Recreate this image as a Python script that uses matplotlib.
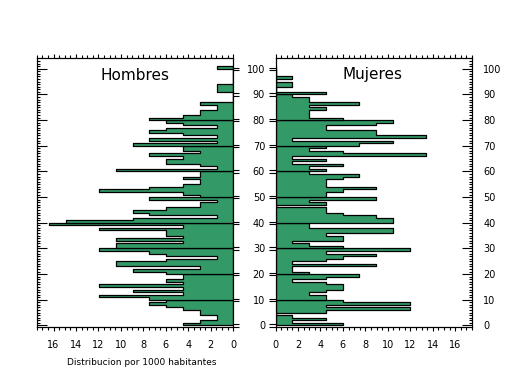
"""
Piramide de poblacion por edad simple (Hombres / Mujeres).

Saves out.png.
"""

import matplotlib
matplotlib.use("Agg")
import matplotlib.pyplot as plt
from matplotlib.ticker import FixedLocator, MultipleLocator, NullFormatter


# ages 0..100, one bar per year
AGES = list(range(0, 101))

# distribucion por 1000 habitantes
HOMBRES = [
    4.48, 2.99, 1.49, 1.49, 2.99, 2.99, 4.48, 5.97, 7.46, 5.97,       # 0-9
    7.46, 11.94, 4.48, 8.96, 4.48, 11.94, 4.48, 5.97, 4.48, 4.48,     # 10-19
    5.97, 8.96, 2.99, 10.45, 10.45, 5.97, 1.49, 5.97, 7.46, 11.94,    # 20-29
    10.45, 10.45, 4.48, 10.45, 4.48, 5.97, 5.97, 11.94, 4.48, 16.42,  # 30-39
    14.93, 8.96, 1.49, 7.46, 8.96, 5.97, 2.99, 2.99, 1.49, 7.46,      # 40-49
    2.99, 4.48, 11.94, 7.46, 4.48, 2.99, 2.99, 4.48, 2.99, 2.99,      # 50-59
    10.45, 1.49, 2.99, 5.97, 5.97, 4.48, 7.46, 2.99, 4.48, 4.48,      # 60-69
    8.96, 1.49, 7.46, 1.49, 4.48, 7.46, 5.97, 1.49, 4.48, 5.97,       # 70-79
    7.46, 4.48, 2.99, 2.99, 1.49, 1.49, 2.99, 0, 0, 0,                # 80-89
    0, 1.49, 1.49, 1.49, 0, 0, 0, 0, 0, 0,                            # 90-99
    1.49,                                                             # 100
]

MUJERES = [
    5.97, 1.49, 4.48, 1.49, 0, 4.48, 11.94, 4.48, 11.94, 5.97,        # 0-9
    4.48, 4.48, 2.99, 4.48, 5.97, 5.97, 4.48, 1.49, 4.48, 7.46,       # 10-19
    2.99, 1.49, 1.49, 8.96, 1.49, 4.48, 5.97, 8.96, 4.48, 11.94,      # 20-29
    5.97, 2.99, 1.49, 5.97, 5.97, 4.48, 10.45, 10.45, 2.99, 2.99,     # 30-39
    10.45, 10.45, 8.96, 5.97, 4.48, 4.48, 0, 4.48, 2.99, 8.96,        # 40-49
    4.48, 4.48, 5.97, 8.96, 4.48, 4.48, 4.48, 5.97, 7.46, 2.99,       # 50-59
    4.48, 2.99, 5.97, 1.49, 4.48, 1.49, 13.43, 5.97, 2.99, 4.48,      # 60-69
    7.46, 10.45, 1.49, 13.43, 8.96, 8.96, 4.48, 4.48, 8.96, 10.45,    # 70-79
    5.97, 2.99, 2.99, 2.99, 4.48, 2.99, 7.46, 2.99, 2.99, 1.49,       # 80-89
    4.48, 0, 0, 1.49, 1.49, 0, 1.49, 0, 0, 0,                         # 90-99
    0,                                                                # 100
]

X_TICKS = [0, 2, 4, 6, 8, 10, 12, 14, 16]
Y_TICKS = [0, 10, 20, 30, 40, 50, 60, 70, 80, 90, 100]

GREEN = "#339966"
XMAX = 17.5
YLIM = (-0.6, 104.3)
FS = 7


def draw_pyramid(ax, values):
    """One outlined step polygon per decade, as in the original chart."""
    for start in range(0, len(AGES), 10):
        ages = AGES[start:start + 10]
        vals = values[start:start + 10]
        y = ages + [ages[-1] + 1]
        x = vals + [vals[-1]]
        ax.fill_betweenx(y, x, 0, step="post", facecolor=GREEN,
                         edgecolor="black", linewidth=0.9)


def style_x(ax):
    ax.xaxis.set_major_locator(FixedLocator(X_TICKS))
    ax.xaxis.set_minor_locator(MultipleLocator(0.5))
    ax.tick_params(axis="x", which="both", direction="out", top=True,
                   width=0.8, labelsize=FS, pad=6)
    ax.tick_params(axis="x", which="major", length=3)
    ax.tick_params(axis="x", which="minor", length=2.2)


def double_ticks():
    # "=" shaped major ticks
    pos = []
    for t in Y_TICKS:
        pos += [t - 0.45, t + 0.45]
    return pos


fig = plt.figure(figsize=(5.09, 3.76), dpi=100)
ax_h = fig.add_axes([0.0721, 0.1303, 0.3862, 0.7162])
ax_m = fig.add_axes([0.5413, 0.1303, 0.3861, 0.7162])

# Hombres
draw_pyramid(ax_h, HOMBRES)
ax_h.set_xlim(XMAX, 0)
ax_h.set_ylim(*YLIM)
style_x(ax_h)
ax_h.yaxis.set_major_locator(FixedLocator(Y_TICKS))
ax_h.yaxis.set_minor_locator(MultipleLocator(1))
ax_h.tick_params(axis="y", which="both", direction="in", left=True, right=False,
                 labelleft=False, width=0.8)
ax_h.tick_params(axis="y", which="major", length=7.2)
ax_h.tick_params(axis="y", which="minor", length=2.2)
ax_h2 = ax_h.twinx()
ax_h2.set_ylim(*YLIM)
ax_h2.yaxis.set_major_locator(FixedLocator(double_ticks()))
ax_h2.yaxis.set_major_formatter(NullFormatter())
ax_h2.tick_params(axis="y", which="major", direction="out", length=4, width=0.8)
ax_h.text(0.5, 0.935, "Hombres", transform=ax_h.transAxes, ha="center",
          va="center", fontsize=11)

# Mujeres
draw_pyramid(ax_m, MUJERES)
ax_m.set_xlim(0, XMAX)
ax_m.set_ylim(*YLIM)
style_x(ax_m)
ax_m.yaxis.set_major_locator(FixedLocator(Y_TICKS))
ax_m.yaxis.set_minor_locator(FixedLocator(double_ticks()))
ax_m.tick_params(axis="y", which="major", length=0, labelsize=FS, pad=7.5)
ax_m.tick_params(axis="y", which="minor", direction="out", length=4.8, width=0.8)
ax_m2 = ax_m.twinx()
ax_m2.set_ylim(*YLIM)
ax_m2.yaxis.set_major_locator(FixedLocator(Y_TICKS))
ax_m2.yaxis.set_minor_locator(MultipleLocator(1))
ax_m2.tick_params(axis="y", which="both", direction="in", width=0.8,
                  labelsize=FS, pad=8)
ax_m2.tick_params(axis="y", which="major", length=7.4)
ax_m2.tick_params(axis="y", which="minor", length=2.2)
ax_m.text(0.491, 0.937, "Mujeres", transform=ax_m.transAxes, ha="center",
          va="center", fontsize=11)

for a in (ax_h, ax_h2, ax_m, ax_m2):
    for sp in a.spines.values():
        sp.set_linewidth(0.8)

fig.text(0.278, 0.037, "Distribucion por 1000 habitantes", ha="center",
         va="center", fontsize=6.5)

fig.savefig("out.png", dpi=100)
